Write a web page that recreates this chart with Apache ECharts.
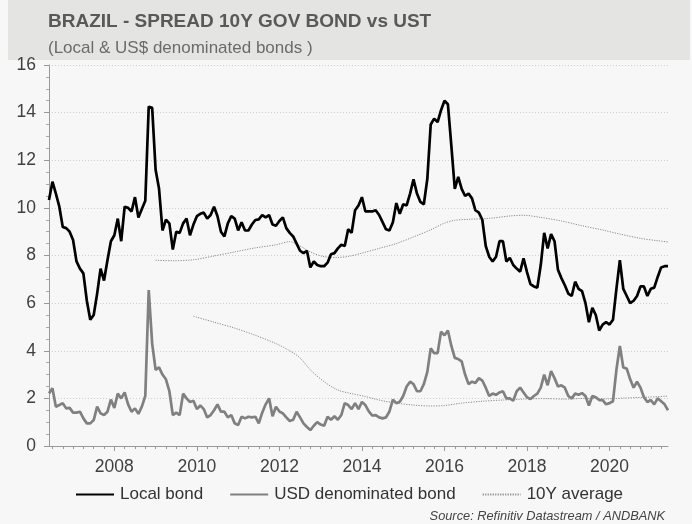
<!DOCTYPE html>
<html><head><meta charset="utf-8">
<script src="https://cdn.jsdelivr.net/npm/echarts@6/dist/echarts.min.js"></script>
<style>html,body{margin:0;padding:0;background:#f7f7f7;}#c{width:692px;height:524px;}</style>
</head><body><div id="c"></div>
<script>
// Monthly categories Jun 2006 .. Jun 2021
const startYear = 2006, startMonth = 6, monthCount = 181;
const months = [];
for (let i = 0; i < monthCount; i++) {
  const t = startMonth - 1 + i;
  const y = startYear + Math.floor(t / 12);
  const m = t % 12 + 1;
  months.push(y + '-' + (m < 10 ? '0' : '') + m);
}

const localBond = [
  10.33, 11.1, 10.6, 10.05, 9.2, 9.15, 9.0, 8.65, 7.75, 7.45,
  7.25, 6.1, 5.3, 5.5, 6.4, 7.45, 6.95, 7.8, 8.6, 8.85,
  9.55, 8.6, 10.05, 10.0, 9.85, 10.45, 9.6, 9.95, 10.3, 14.25,
  14.2, 11.6, 10.8, 9.05, 9.5, 9.35, 8.25, 9.0, 8.95, 9.35,
  9.55, 8.85, 9.3, 9.65, 9.75, 9.8, 9.55, 9.7, 10.05, 9.65,
  9.0, 8.8, 9.35, 9.65, 9.55, 9.05, 9.4, 9.05, 9.05, 9.3,
  9.49, 9.52, 9.7, 9.6, 9.7, 9.3, 9.25, 9.45, 9.6, 9.15,
  8.95, 8.8, 8.5, 8.2, 8.1, 8.2, 7.5, 7.75, 7.6, 7.55,
  7.55, 7.7, 8.05, 8.1, 8.3, 8.45, 8.4, 9.1, 8.95, 9.9,
  10.1, 10.45, 9.85, 9.85, 9.85, 9.9, 9.7, 9.4, 9.1, 9.05,
  9.4, 10.2, 9.75, 10.15, 10.1, 10.6, 11.2, 10.6, 10.25, 10.15,
  11.2, 13.5, 13.75, 13.6, 14.1, 14.5, 14.35, 12.6, 10.8, 11.3,
  10.8, 10.5, 10.6, 10.4, 9.9, 9.8, 9.5, 8.4, 7.95, 7.75,
  7.95, 8.6, 8.6, 7.75, 7.9, 7.6, 7.45, 7.32, 7.88, 7.3,
  6.8, 6.7, 6.65, 7.6, 8.95, 8.3, 8.9, 8.6, 7.4, 7.05,
  6.75, 6.4, 6.3, 6.9, 6.6, 6.5, 6.0, 5.2, 5.8, 5.5,
  4.85, 5.1, 5.2, 5.1, 5.3, 6.6, 7.8, 6.6, 6.3, 6.0,
  6.1, 6.3, 6.7, 6.7, 6.3, 6.6, 6.65, 7.1, 7.5, 7.55,
  7.55
];

const usdBond = [
  2.21, 2.42, 1.65, 1.72, 1.8, 1.58, 1.6, 1.4, 1.4, 1.44,
  1.16, 0.95, 0.95, 1.09, 1.65, 1.37, 1.3, 1.44, 1.95, 1.6,
  2.2, 2.0, 2.25, 1.75, 1.44, 1.58, 1.35, 1.65, 2.1, 6.55,
  4.3, 3.2, 3.3, 3.0, 2.8, 2.3, 1.3, 1.4, 1.3, 2.2,
  2.0, 1.85, 1.9, 1.55, 1.7, 1.55, 1.2, 1.3, 1.5, 1.75,
  1.44, 1.44, 1.2, 1.3, 0.95, 0.88, 1.23, 1.16, 1.23, 1.2,
  1.23, 0.95, 1.4, 1.75, 2.0, 1.25, 1.65, 1.45, 1.37, 1.2,
  1.05, 1.1, 1.44, 1.2, 0.95, 0.8, 0.67, 0.85, 1.0, 0.9,
  0.85, 1.23, 1.1, 1.25, 1.1, 1.3, 1.8, 1.72, 1.55, 1.8,
  1.55, 1.85, 1.72, 1.45, 1.28, 1.3, 1.2, 1.16, 1.2, 1.45,
  1.95, 1.8, 1.86, 2.1, 2.5, 2.7, 2.6, 2.3, 2.3, 2.6,
  3.1, 4.1, 3.9, 3.9, 4.8, 4.65, 4.85, 4.2, 3.7, 3.65,
  3.55, 3.0, 2.6, 2.7, 2.65, 2.85, 2.75, 2.45, 2.1, 2.2,
  2.15, 2.25, 2.3, 2.0, 2.0, 1.9, 2.3, 2.45, 2.25, 2.05,
  1.97, 2.1, 2.2, 2.45, 3.0, 2.55, 3.15, 2.85, 2.5, 2.55,
  2.45, 2.1, 2.0, 2.2, 2.15, 2.22, 2.1, 1.7, 2.1, 2.05,
  1.93, 1.93, 1.75, 1.8, 1.88, 3.2, 4.2, 3.3, 3.25, 2.8,
  2.45, 2.7, 2.45, 2.05, 1.85, 1.93, 1.75, 2.0, 1.88, 1.75,
  1.5
];

const localAvg = [
  ['2009-01', 7.8], ['2009-06', 7.78], ['2009-12', 7.82], ['2010-06', 7.98],
  ['2010-12', 8.15], ['2011-06', 8.32], ['2011-12', 8.45], ['2012-04', 8.58],
  ['2012-07', 8.4], ['2012-10', 8.15], ['2013-02', 7.95], ['2013-06', 7.92],
  ['2013-09', 7.96], ['2014-01', 8.1], ['2014-06', 8.3], ['2014-11', 8.5],
  ['2015-04', 8.78], ['2015-09', 9.08], ['2016-01', 9.36], ['2016-04', 9.48],
  ['2016-08', 9.52], ['2017-02', 9.56], ['2017-08', 9.66], ['2017-12', 9.69],
  ['2018-05', 9.6], ['2018-11', 9.45], ['2019-05', 9.25], ['2019-11', 9.07],
  ['2020-04', 8.9], ['2020-10', 8.72], ['2021-03', 8.62], ['2021-06', 8.57]
];

const usdAvg = [
  ['2009-12', 5.45], ['2010-06', 5.2], ['2010-12', 4.95], ['2011-06', 4.65],
  ['2011-12', 4.3], ['2012-04', 4.0], ['2012-07', 3.7], ['2012-10', 3.2],
  ['2013-02', 2.7], ['2013-06', 2.35], ['2013-10', 2.2], ['2014-02', 2.08],
  ['2014-06', 1.93], ['2014-11', 1.8], ['2015-04', 1.72], ['2015-09', 1.68],
  ['2016-01', 1.7], ['2016-06', 1.8], ['2016-12', 1.88], ['2017-06', 1.93],
  ['2017-12', 1.97], ['2018-06', 1.99], ['2018-12', 1.97], ['2019-06', 2.0],
  ['2019-12', 1.98], ['2020-06', 2.02], ['2020-12', 2.05], ['2021-06', 2.1]
];

const FONT = '"Liberation Sans", Arial, sans-serif';
const isMajor = (i, v) => v.slice(5) === '01' && (+v.slice(0, 4)) % 2 === 0;
const isQuarter = (i, v) => ((+v.slice(5)) - 1) % 3 === 0;

const chart = echarts.init(document.getElementById('c'));
chart.setOption({
  backgroundColor: '#f7f7f7',
  animation: false,
  graphic: [
    { type: 'rect', left: 8, top: 0, shape: { width: 682, height: 60 }, style: { fill: '#e4e4e2' }, z: -10 },
    { type: 'text', left: 48, top: 12, style: { text: 'BRAZIL - SPREAD 10Y GOV BOND vs UST', font: 'bold 19px ' + FONT, fill: '#595959' } },
    { type: 'text', left: 48, top: 40, style: { text: '(Local & US$ denominated bonds )', font: '17px ' + FONT, fill: '#6b6b6b' } },
    { type: 'text', right: 27, top: 510, style: { text: 'Source: Refinitiv Datastream / ANDBANK', font: 'italic 12.8px ' + FONT, fill: '#444' } }
  ],
  legend: {
    left: 75, top: 486, padding: 0, itemWidth: 38, itemHeight: 14, itemGap: 26,
    itemStyle: { opacity: 0 },
    textStyle: { fontSize: 17, color: '#333', fontFamily: FONT, padding: [0, 0, 0, 1] },
    data: ['Local bond', 'USD denominated bond', '10Y average']
  },
  grid: { left: 49, right: 24, top: 65, bottom: 78 },
  xAxis: [{
    type: 'category', data: months, boundaryGap: false,
    axisLine: { lineStyle: { color: '#999', width: 1 } },
    axisTick: { interval: isMajor, length: 5, lineStyle: { color: '#999' } },
    axisLabel: { interval: isMajor, formatter: v => v.slice(0, 4), fontSize: 17.5, color: '#404040', fontFamily: FONT, margin: 12 },
    splitLine: { show: false }
  }, {
    type: 'category', data: months, boundaryGap: false, position: 'bottom',
    axisLine: { show: false },
    axisTick: { interval: isQuarter, length: 3, lineStyle: { color: '#999' } },
    axisLabel: { show: false }
  }],
  yAxis: {
    type: 'value', min: 0, max: 16, interval: 2,
    axisLine: { show: true, lineStyle: { color: '#999' } },
    axisTick: { show: true, length: 5, lineStyle: { color: '#999' } },
    minorTick: { show: true, splitNumber: 4, length: 3, lineStyle: { color: '#aaa' } },
    axisLabel: { fontSize: 17.5, color: '#404040', fontFamily: FONT, margin: 13 },
    splitLine: { lineStyle: { color: '#cfcfcf', type: [1, 2], width: 1 } }
  },
  series: [
    { name: 'Local bond', type: 'line', data: localBond, showSymbol: false, symbol: 'none',
      lineStyle: { color: '#000', width: 2.7 }, itemStyle: { color: '#000' }, z: 5 },
    { name: 'USD denominated bond', type: 'line', data: usdBond, showSymbol: false, symbol: 'none',
      lineStyle: { color: '#808080', width: 2.7 }, itemStyle: { color: '#808080' }, z: 4 },
    { name: '10Y average', type: 'line', data: localAvg, showSymbol: false, symbol: 'none', smooth: 0.3,
      lineStyle: { color: '#8c8c8c', width: 1, type: [1.2, 1.3] }, itemStyle: { color: '#8c8c8c' }, z: 3 },
    { name: '10Y average', type: 'line', data: usdAvg, showSymbol: false, symbol: 'none', smooth: 0.3,
      lineStyle: { color: '#8c8c8c', width: 1, type: [1.2, 1.3] }, itemStyle: { color: '#8c8c8c' }, z: 3 }
  ]
});
</script>
</body></html>
